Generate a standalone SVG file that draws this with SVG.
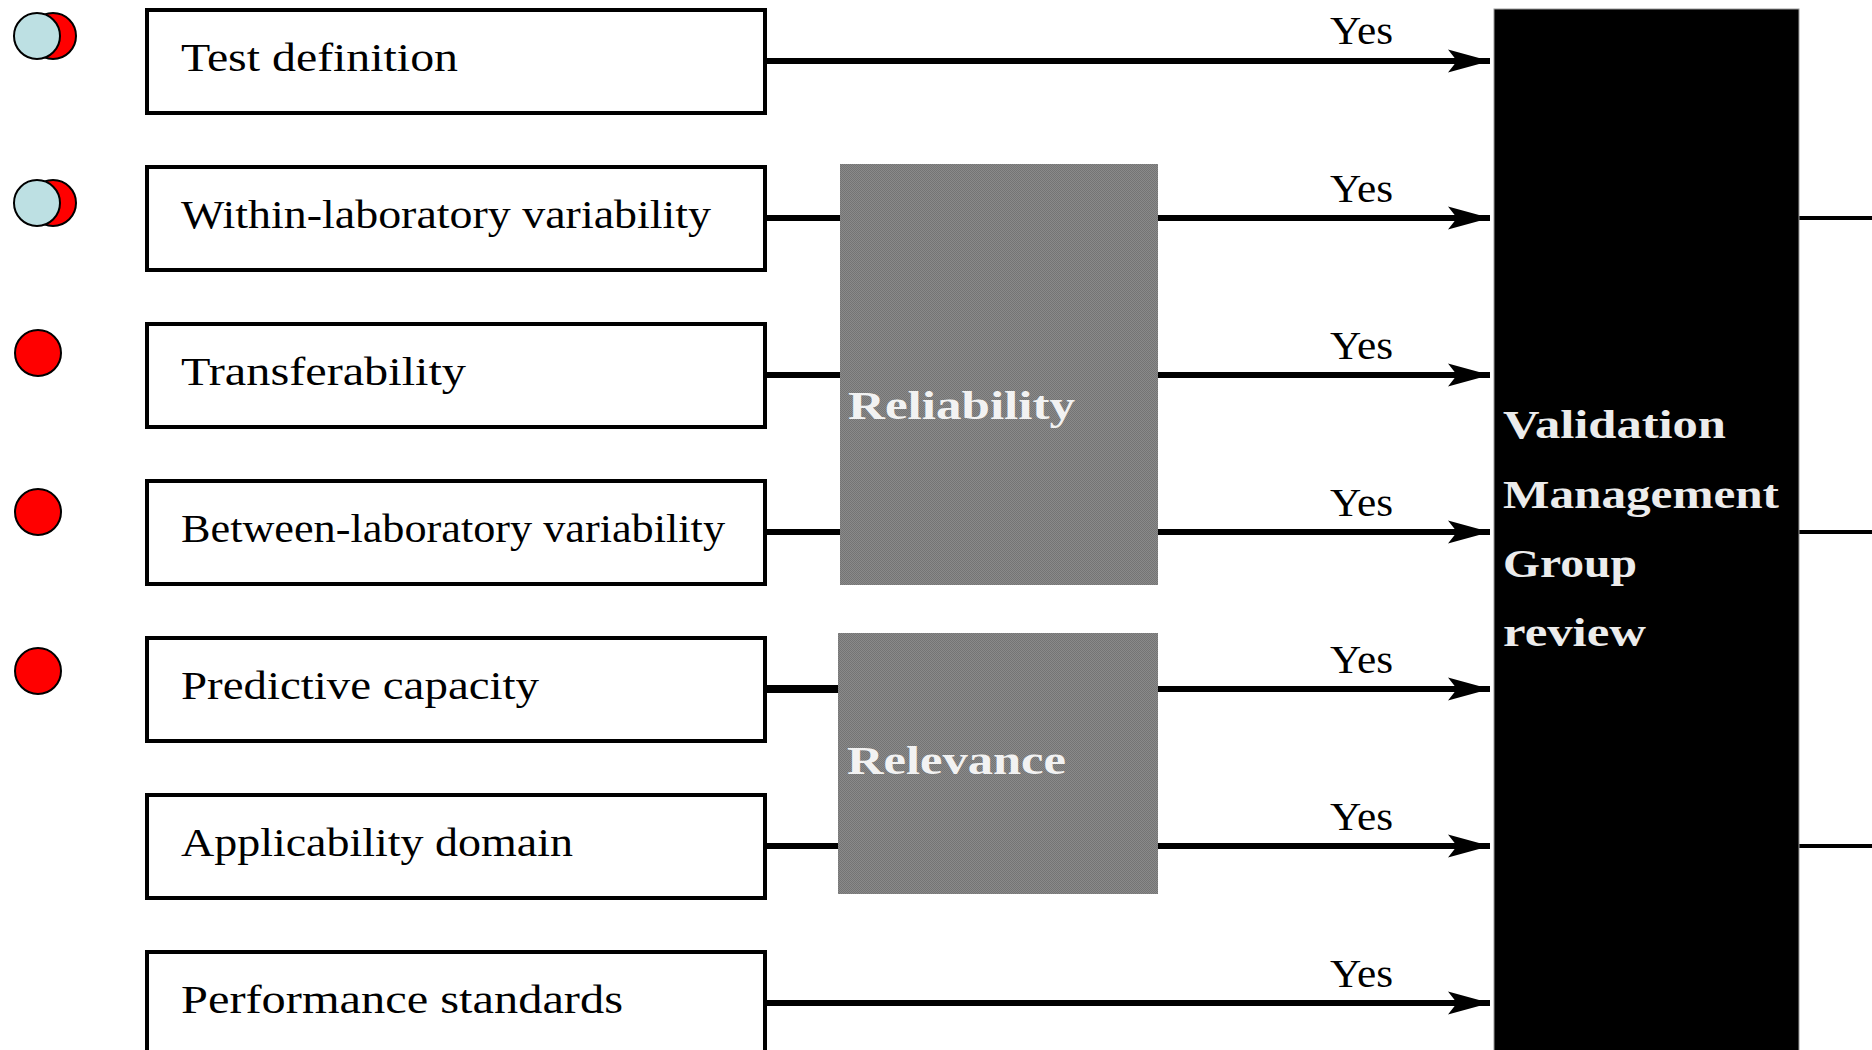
<svg xmlns="http://www.w3.org/2000/svg" width="1872" height="1050" viewBox="0 0 1872 1050">
<defs>
<style>
.box{fill:#fff;stroke:#000;stroke-width:4}
.lbl{font-family:"Liberation Serif",serif;font-size:41px;fill:#000}
.yes{font-family:"Liberation Serif",serif;font-size:41px;fill:#000}
.grp{font-family:"Liberation Serif",serif;font-size:40px;font-weight:bold;fill:#f2f2f2}
.vm{font-family:"Liberation Serif",serif;font-size:40px;font-weight:bold;fill:#ececec}
.grey{fill:url(#dither)}
.ln{stroke:#000;stroke-width:6;fill:none}
.ln8{stroke:#000;stroke-width:8;fill:none}
.ln2{stroke:#000;stroke-width:4;fill:none}
.red{fill:#ff0000;stroke:#000;stroke-width:2}
.blue{fill:#bde0e3;stroke:#000;stroke-width:2}
</style>
<pattern id="dither" patternUnits="userSpaceOnUse" width="2" height="2">
<rect width="2" height="2" fill="#8a8a8a"/>
<rect width="1" height="1" fill="#747474"/>
<rect x="1" y="1" width="1" height="1" fill="#747474"/>
</pattern>
<marker id="ah" markerUnits="userSpaceOnUse" markerWidth="46" markerHeight="28" viewBox="-44 -14 46 28" refX="0" refY="0" orient="auto">
<path d="M0,0 L-42,-11.5 L-33,0 L-42,11.5 Z" fill="#000"/>
</marker>
</defs>
<rect width="1872" height="1050" fill="#fff"/>

<g id="indicators">
<circle class="red" cx="53" cy="36" r="23"/>
<circle class="blue" cx="37" cy="36" r="23"/>
<circle class="red" cx="53" cy="203" r="23"/>
<circle class="blue" cx="37" cy="203" r="23"/>
<circle class="red" cx="38" cy="353" r="23"/>
<circle class="red" cx="38" cy="512" r="23"/>
<circle class="red" cx="38" cy="671" r="23"/>
</g>

<g id="connectors">
<line class="ln" x1="765" y1="61" x2="1490" y2="61" marker-end="url(#ah)"/>
<line class="ln" x1="765" y1="218" x2="840" y2="218"/>
<line class="ln" x1="1158" y1="218" x2="1490" y2="218" marker-end="url(#ah)"/>
<line class="ln" x1="765" y1="375" x2="840" y2="375"/>
<line class="ln" x1="1158" y1="375" x2="1490" y2="375" marker-end="url(#ah)"/>
<line class="ln" x1="765" y1="532" x2="840" y2="532"/>
<line class="ln" x1="1158" y1="532" x2="1490" y2="532" marker-end="url(#ah)"/>
<line class="ln8" x1="765" y1="689" x2="838" y2="689"/>
<line class="ln" x1="1158" y1="689" x2="1490" y2="689" marker-end="url(#ah)"/>
<line class="ln" x1="765" y1="846" x2="838" y2="846"/>
<line class="ln" x1="1158" y1="846" x2="1490" y2="846" marker-end="url(#ah)"/>
<line class="ln" x1="765" y1="1003" x2="1490" y2="1003" marker-end="url(#ah)"/>
<line class="ln2" x1="1799" y1="218" x2="1872" y2="218"/>
<line class="ln2" x1="1799" y1="532" x2="1872" y2="532"/>
<line class="ln2" x1="1799" y1="846" x2="1872" y2="846"/>
<text class="yes" x="1330" y="44" textLength="63" lengthAdjust="spacingAndGlyphs">Yes</text>
<text class="yes" x="1330" y="202" textLength="63" lengthAdjust="spacingAndGlyphs">Yes</text>
<text class="yes" x="1330" y="359" textLength="63" lengthAdjust="spacingAndGlyphs">Yes</text>
<text class="yes" x="1330" y="516" textLength="63" lengthAdjust="spacingAndGlyphs">Yes</text>
<text class="yes" x="1330" y="673" textLength="63" lengthAdjust="spacingAndGlyphs">Yes</text>
<text class="yes" x="1330" y="830" textLength="63" lengthAdjust="spacingAndGlyphs">Yes</text>
<text class="yes" x="1330" y="987" textLength="63" lengthAdjust="spacingAndGlyphs">Yes</text>
</g>

<g id="n1"><rect class="box" x="147" y="10" width="618" height="103"/><text class="lbl" x="181" y="71" textLength="277" lengthAdjust="spacingAndGlyphs">Test definition</text></g>
<g id="n2"><rect class="box" x="147" y="167" width="618" height="103"/><text class="lbl" x="181" y="228" textLength="530" lengthAdjust="spacingAndGlyphs">Within-laboratory variability</text></g>
<g id="n3"><rect class="box" x="147" y="324" width="618" height="103"/><text class="lbl" x="181" y="385" textLength="285" lengthAdjust="spacingAndGlyphs">Transferability</text></g>
<g id="n4"><rect class="box" x="147" y="481" width="618" height="103"/><text class="lbl" x="181" y="542" textLength="544" lengthAdjust="spacingAndGlyphs">Between-laboratory variability</text></g>
<g id="n5"><rect class="box" x="147" y="638" width="618" height="103"/><text class="lbl" x="181" y="699" textLength="358" lengthAdjust="spacingAndGlyphs">Predictive capacity</text></g>
<g id="n6"><rect class="box" x="147" y="795" width="618" height="103"/><text class="lbl" x="181" y="856" textLength="392" lengthAdjust="spacingAndGlyphs">Applicability domain</text></g>
<g id="n7"><rect class="box" x="147" y="952" width="618" height="103"/><text class="lbl" x="181" y="1013" textLength="442" lengthAdjust="spacingAndGlyphs">Performance standards</text></g>

<g id="reliability"><rect class="grey" x="840" y="164" width="318" height="421"/><text class="grp" x="848" y="419" textLength="227" lengthAdjust="spacingAndGlyphs">Reliability</text></g>
<g id="relevance"><rect class="grey" x="838" y="633" width="320" height="261"/><text class="grp" x="847" y="774" textLength="219" lengthAdjust="spacingAndGlyphs">Relevance</text></g>

<g id="vmg">
<rect x="1494" y="9" width="305" height="1045" fill="#000" stroke="#9a9a9a" stroke-width="1"/>
<text class="vm" x="1503" y="438" textLength="223" lengthAdjust="spacingAndGlyphs">Validation</text>
<text class="vm" x="1503" y="508" textLength="276" lengthAdjust="spacingAndGlyphs">Management</text>
<text class="vm" x="1503" y="577" textLength="134" lengthAdjust="spacingAndGlyphs">Group</text>
<text class="vm" x="1503" y="646" textLength="143" lengthAdjust="spacingAndGlyphs">review</text>
</g>
</svg>
